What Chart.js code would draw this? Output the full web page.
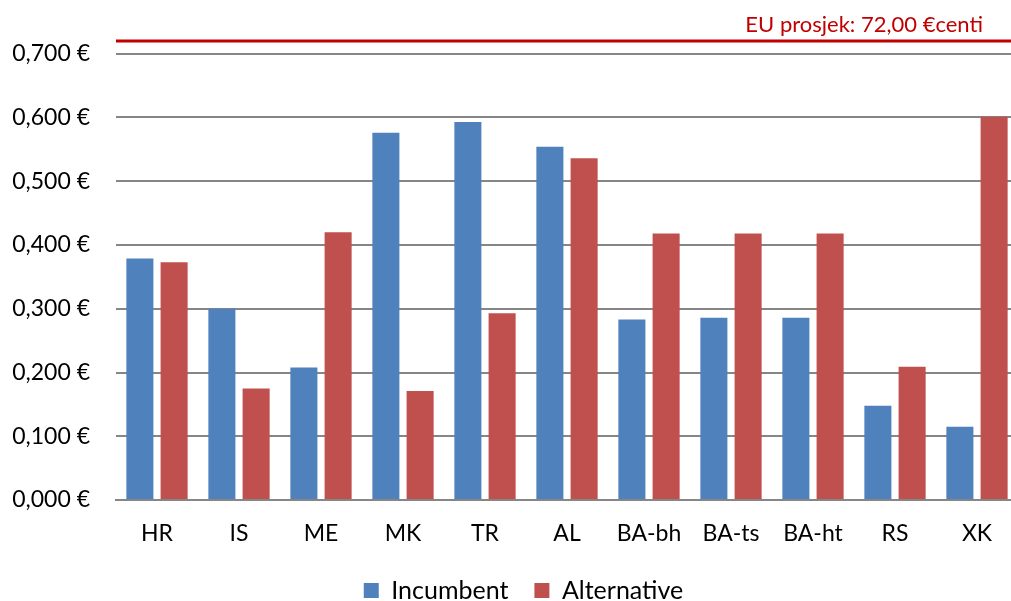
<!DOCTYPE html>
<html>
<head>
<meta charset="utf-8">
<script src="https://cdn.jsdelivr.net/npm/chart.js@4"></script>
<style>
  html, body { margin: 0; padding: 0; background: #fff; overflow: hidden; }
  #wrap { width: 1011px; height: 601px; overflow: hidden; }
</style>
</head>
<body>
<div id="wrap"><canvas id="myChart" width="1018" height="613"></canvas></div>
<script>
var countries = ['HR', 'IS', 'ME', 'MK', 'TR', 'AL', 'BA-bh', 'BA-ts', 'BA-ht', 'RS', 'XK'];
var incumbent = [0.379, 0.300, 0.208, 0.576, 0.593, 0.554, 0.283, 0.286, 0.286, 0.148, 0.115];
var alternative = [0.373, 0.175, 0.420, 0.171, 0.293, 0.536, 0.418, 0.418, 0.418, 0.209, 0.601];
var euAverage = 0.72;
var euLabel = 'EU prosjek: 72,00 €centi';
var yTicks = [0, 0.1, 0.2, 0.3, 0.4, 0.5, 0.6, 0.7];

var fontFamily = 'Lato, "Open Sans", sans-serif';

// red EU average line across the plot area
var euLinePlugin = {
    id: 'euLine',
    afterLayout: function (chart) {
        // legend sits a bit right of centre in the original
        chart.legend.left += 14;
        chart.legend.right += 14;
    },
    afterDatasetsDraw: function (chart) {
        var c = chart.ctx;
        var y = chart.scales.y.getPixelForValue(euAverage);
        var area = chart.chartArea;
        c.save();
        c.strokeStyle = '#C00000';
        c.lineWidth = 3;
        c.beginPath();
        c.moveTo(area.left, y);
        c.lineTo(chart.width, y);
        c.stroke();
        c.fillStyle = '#C00000';
        c.font = '22px ' + fontFamily;
        c.textAlign = 'right';
        c.textBaseline = 'alphabetic';
        c.fillText(euLabel, 983, y - 9);
        c.restore();
    }
};

var ctx = document.getElementById('myChart').getContext('2d');
var chart = new Chart(ctx, {
    type: 'bar',
    data: {
        labels: countries,
        datasets: [{
            label: 'Incumbent',
            backgroundColor: '#4F81BD',
            data: incumbent,
            categoryPercentage: 0.835,
            barPercentage: 0.79
        }, {
            label: 'Alternative',
            backgroundColor: '#C0504D',
            data: alternative,
            categoryPercentage: 0.835,
            barPercentage: 0.79
        }]
    },
    options: {
        responsive: false,
        animation: false,
        layout: { padding: { top: 41, right: 0, left: 1, bottom: 0 } },
        plugins: {
            legend: {
                position: 'bottom',
                labels: {
                    font: { family: fontFamily, size: 25 },
                    color: '#000',
                    boxWidth: 15,
                    boxHeight: 15,
                    padding: 26
                }
            },
            tooltip: { enabled: false }
        },
        scales: {
            x: {
                grid: { display: false },
                border: { display: true, color: '#868686', width: 2 },
                afterFit: function (scale) { scale.height = 52; },
                ticks: {
                    font: { family: fontFamily, size: 23 },
                    color: '#000',
                    padding: 12
                }
            },
            y: {
                min: 0,
                max: euAverage,
                afterBuildTicks: function (scale) {
                    scale.ticks = yTicks.map(function (v) { return { value: v }; });
                },
                afterFit: function (scale) { scale.width = 115; },
                border: { display: false },
                grid: { color: '#868686', lineWidth: 2, drawTicks: false },
                ticks: {
                    font: { family: fontFamily, size: 23 },
                    color: '#000',
                    padding: 26,
                    callback: function (v) { return v.toFixed(3).replace('.', ',') + ' €'; }
                }
            }
        }
    },
    plugins: [euLinePlugin]
});
</script>
</body>
</html>
